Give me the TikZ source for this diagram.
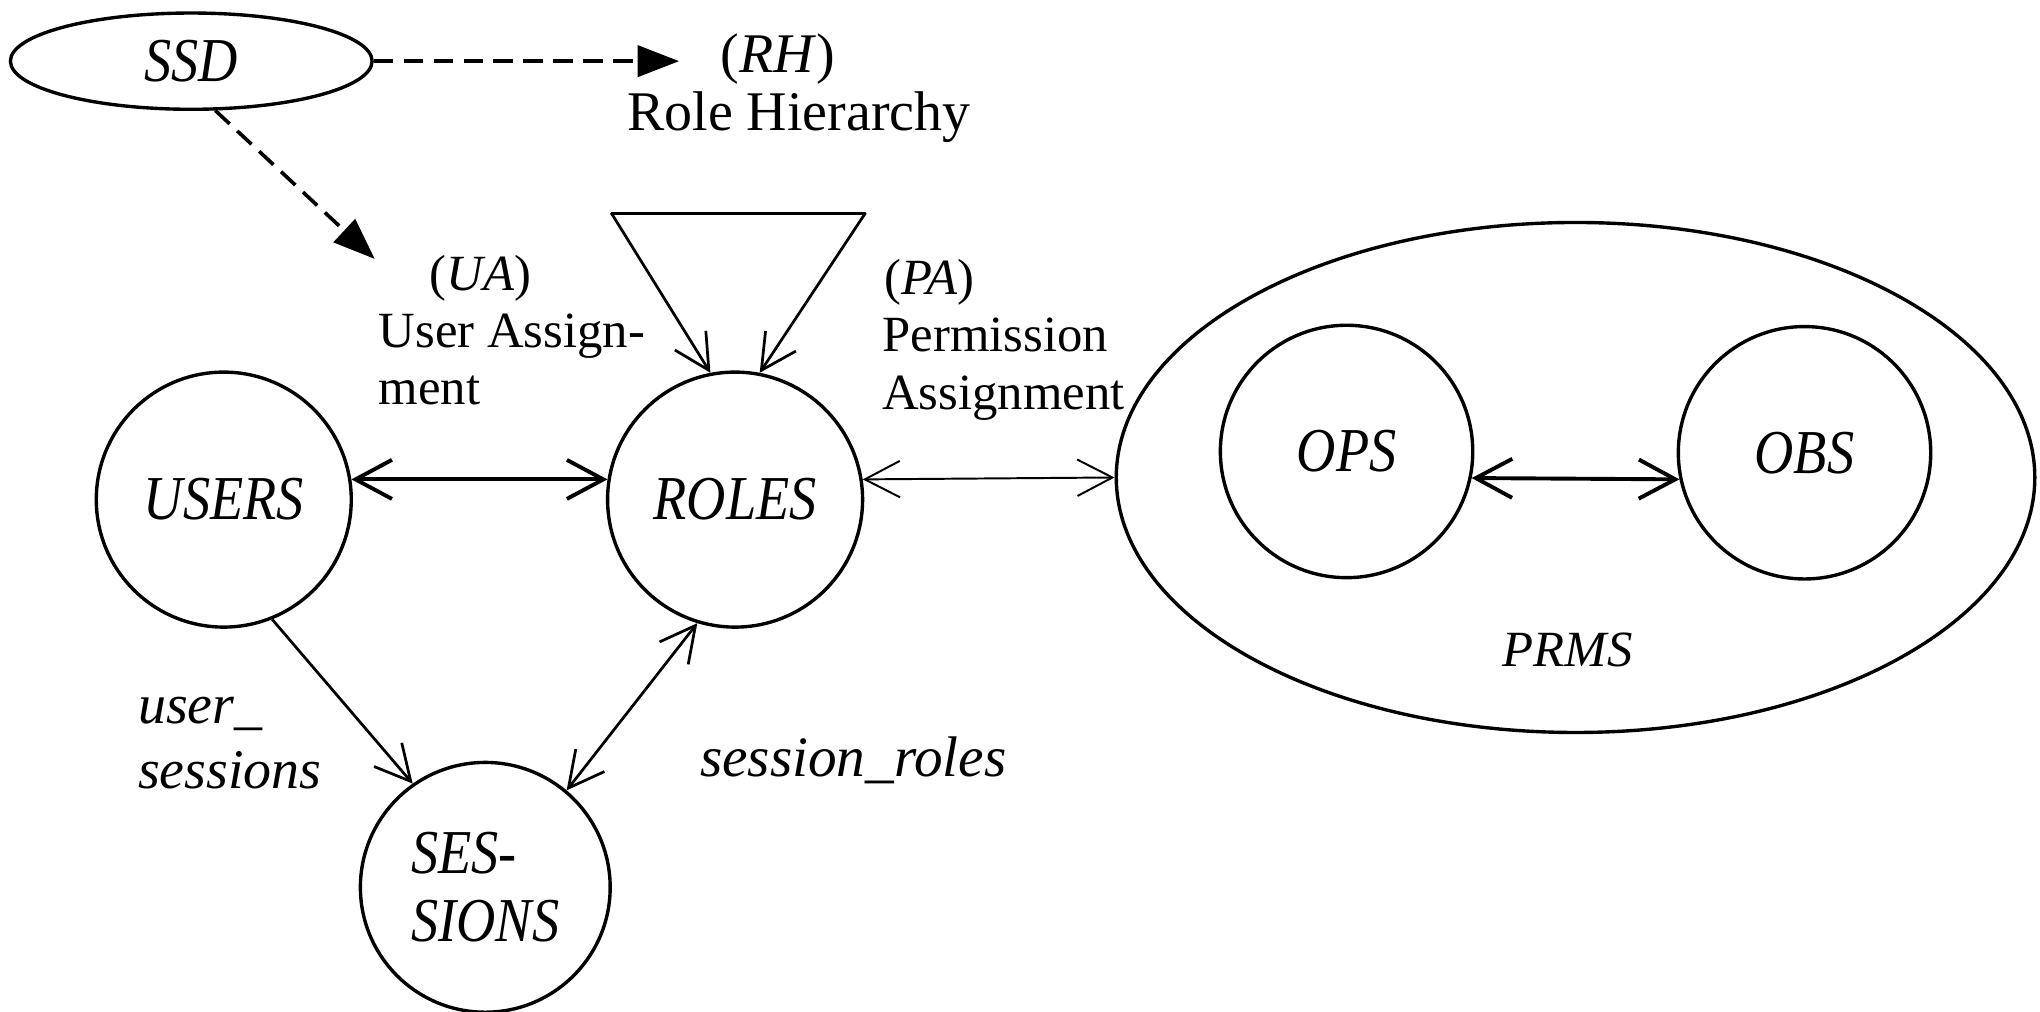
\documentclass[tikz,border=0pt]{standalone}
\usepackage{fontspec}
\setmainfont{Liberation Serif}
\newfontfamily\condfont{Liberation Serif}[FakeStretch=0.87]
\usetikzlibrary{arrows.meta,shapes.geometric}
\begin{document}
\begin{tikzpicture}[x=1pt,y=-1pt,
  fs/.style={inner sep=0pt,font=\fontsize{#1}{#1}\selectfont},
  ifs/.style={inner sep=0pt,font=\fontsize{#1}{#1}\selectfont\itshape},
  ent/.style={draw,circle,line width=2.6pt,inner sep=0pt,font=\condfont\fontsize{48}{52}\selectfont\itshape},
  oval/.style={draw,ellipse,line width=2.6pt,inner sep=0pt,font=\condfont\fontsize{48}{52}\selectfont\itshape},
  one/.style={line width=2.1pt,-{Straight Barb[length=27pt,width=28pt]}},
  two/.style={line width=2.1pt,{Straight Barb[length=27pt,width=28pt]}-{Straight Barb[length=27pt,width=28pt]}},
  twothick/.style={line width=3pt,{Straight Barb[length=28pt,width=30pt]}-{Straight Barb[length=28pt,width=30pt]}},
  twothin/.style={line width=1.5pt,{Straight Barb[length=27pt,width=28pt]}-{Straight Barb[length=27pt,width=28pt]}},
  dsh/.style={line width=2.8pt,dash pattern=on 15pt off 8pt,-{Triangle[length=32pt,width=24pt]}}
]
\useasboundingbox (0,0) rectangle (1568,777.1);

% nodes
\node[oval,minimum width=278pt,minimum height=74pt] (ssd) at (147,47) {SSD};
\node[ent,minimum size=196pt] (users) at (172,384) {USERS};
\node[ent,minimum size=196pt] (roles) at (565,384) {ROLES};
\node[ent,minimum size=192pt,align=left] (sessions) at (373,682) {SES-\\SIONS};
\node[oval,minimum width=706pt,minimum height=392pt] (prms) at (1211,367) {};
\node[ifs=39,anchor=base] (prmslbl) at (1205,512) {PRMS};
\node[ent,minimum size=194pt] (ops) at (1035,347) {OPS};
\node[ent,minimum size=194pt] (obs) at (1387,348) {OBS};

% labels
\node[fs=43,anchor=base] (rh1) at (598,56) {(\textit{RH})};
\node[fs=43,anchor=base] (rh2) at (614,100) {Role Hierarchy};
\node[fs=39,anchor=base west] (ua1) at (330,223) {(\textit{UA})};
\node[fs=39,anchor=base west] (ua2) at (291,267) {User Assign-};
\node[fs=39,anchor=base west] (ua3) at (291,311) {ment};
\node[fs=39,anchor=base west] (pa1) at (680,226) {(\textit{PA})};
\node[fs=39,anchor=base west] (pa2) at (678,270.5) {Permission};
\node[fs=39,anchor=base west] (pa3) at (678,315) {Assignment};
\node[ifs=43,anchor=base west] (us1) at (106,556) {user\_};
\node[ifs=43,anchor=base west] (us2) at (106,606) {sessions};
\node[ifs=44,anchor=base west] (sr) at (538,597) {session\_roles};

% free ends
\coordinate (rhtip) at (522,47);
\coordinate (uatip) at (288,199);
\coordinate (tl) at (470,164);
\coordinate (tr) at (665,164);

% connectors
\draw[dsh] (ssd.east) -- (rhtip);
\draw[dsh] (ssd.-64) -- (uatip);
\draw[line width=2.1pt,line cap=round] (tl) -- (tr);
\draw[one] (tl) -- (roles.101);
\draw[one] (tr) -- (roles.79);
\draw[twothick] (users.9) -- (roles.171);
\draw[twothin] (roles.9) -- (prms.180);
\draw[twothick] (ops.-12) -- (obs.192);
\draw[one] (users.-68) -- (sessions.125);
\draw[two] (roles.-107) -- (sessions.50);
\end{tikzpicture}
\end{document}
